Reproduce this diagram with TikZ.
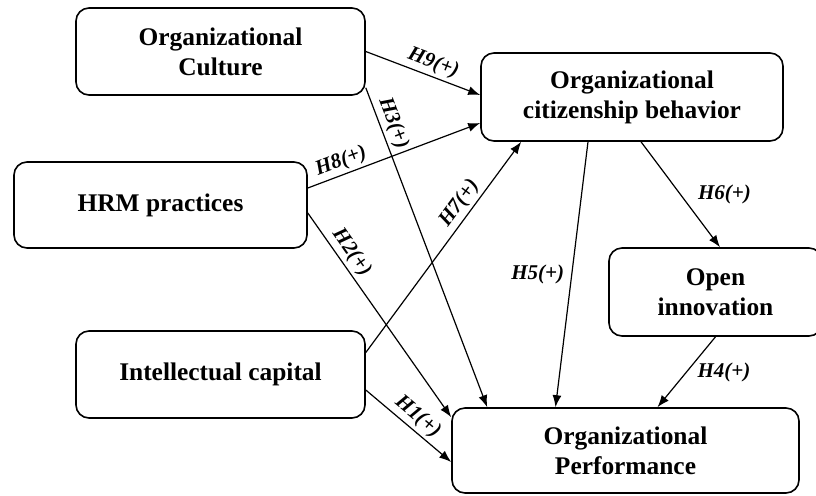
\documentclass[tikz,border=0pt]{standalone}
\usepackage{fontspec}
\setmainfont{Liberation Serif}
\usepackage{tikz}
\usetikzlibrary{arrows.meta}

\begin{document}
\begin{tikzpicture}[x=0.5pt, y=-0.5pt,
		box/.style={draw, thick, rounded corners=6.5pt, align=center, inner sep=2pt,
			font=\bfseries\fontsize{12.7}{15}\selectfont},
		link/.style={-{Latex[length=6pt,width=4.5pt]}, line width=0.6pt},
		hyp/.style={font=\bfseries\itshape\fontsize{10.5}{12}\selectfont, inner sep=1.5pt}]
			\useasboundingbox (0,0) rectangle (816,495);
			% Nodes
			\node[box, minimum width=144.5pt, minimum height=43.5pt] (culture) at (220.5,51.5) {Organizational\\Culture};
			\node[box, minimum width=151pt, minimum height=44pt] (ocb) at (632,97) {Organizational\\citizenship behavior};
			\node[box, minimum width=146.5pt, minimum height=43pt] (hrm) at (160.5,205) {HRM practices};
			\node[box, minimum width=144.5pt, minimum height=43.5pt] (ic) at (220.5,374.5) {Intellectual capital};
			\node[box, minimum width=106.5pt, minimum height=44pt] (oi) at (715.5,292) {Open\\innovation};
			\node[box, minimum width=173.5pt, minimum height=42.5pt] (perf) at (625.5,450.5) {Organizational\\Performance};
			% Hypotheses
			\draw[link] (culture.east) -- node[hyp, sloped, above, pos=0.55] {H9(+)} ([yshift=1pt]ocb.west);
			\draw[link] ([yshift=8.5pt]hrm.east) -- node[hyp, sloped, above, pos=0.22] {H8(+)} ([yshift=-13pt]ocb.west);
			\draw[link] ([yshift=4pt]culture.south east) -- node[hyp, sloped, above, pos=0.125] {H3(+)} ([xshift=18pt]perf.north west);
			\draw[link] ([yshift=11pt]ic.east) -- node[hyp, sloped, above, pos=0.67] {H7(+)} ([xshift=20.5pt]ocb.south west);
			\draw[link] ([yshift=-4pt]hrm.east) -- node[hyp, sloped, above, pos=0.23] {H2(+)} ([yshift=-5pt]perf.north west);
			\draw[link] ([yshift=-7.75pt]ic.east) -- node[hyp, sloped, above, pos=0.51] {H1(+)} ([yshift=-5.75pt]perf.west);
			\draw[link] ([xshift=-22pt]ocb.south) -- node[hyp, left=2pt, pos=0.5] {H5(+)} ([xshift=-35pt]perf.north);
			\draw[link] ([xshift=4.5pt]ocb.south) -- node[hyp, right=7pt, pos=0.5] {H6(+)} ([xshift=2.25pt]oi.north);
			\draw[link] (oi.south) -- node[hyp, right=4pt, pos=0.51] {H4(+)} ([xshift=16pt]perf.north);
		\end{tikzpicture}
\end{document}
